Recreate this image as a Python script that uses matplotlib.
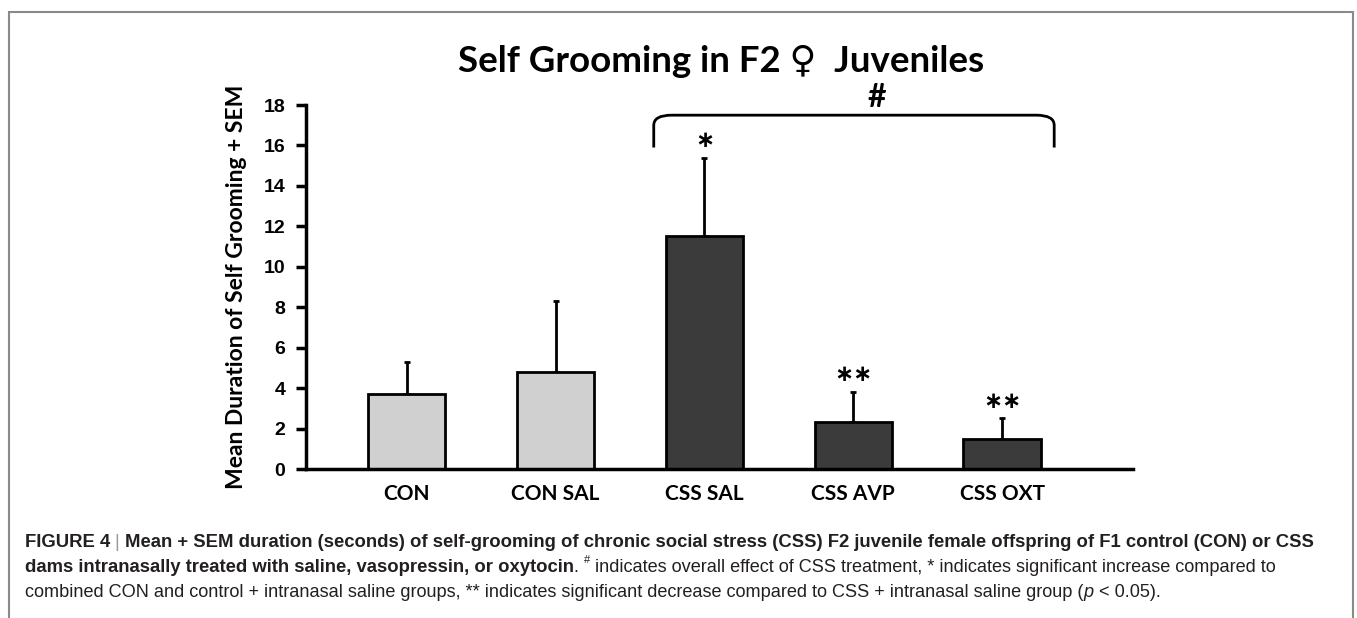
import matplotlib
matplotlib.use("Agg")
import matplotlib.pyplot as plt
from matplotlib.path import Path
from matplotlib.patches import PathPatch, Rectangle

# data
groups = ["CON", "CON SAL", "CSS SAL", "CSS AVP", "CSS OXT"]
means = [3.7, 4.8, 11.5, 2.3, 1.5]
sems = [1.6, 3.5, 3.9, 1.5, 1.0]
bar_colors = ["#d0d0d0", "#d0d0d0", "#3b3b3b", "#3b3b3b", "#3b3b3b"]
stars = ["", "", "*", "**", "**"]
yticks = [0, 2, 4, 6, 8, 10, 12, 14, 16, 18]

chart_font = ["Lato", "DejaVu Sans"]
cap_font = ["Liberation Sans", "DejaVu Sans"]

fig = plt.figure(figsize=(13.57, 6.18), dpi=100)
ax = fig.add_axes([0.2255, 0.2411, 0.6095, 0.5889])

x = list(range(len(groups)))
ax.bar(x, means, width=0.52, color=bar_colors, edgecolor="black", linewidth=2, zorder=2)
ax.errorbar(x, means, yerr=[[0] * len(sems), sems], fmt="none", ecolor="black",
            elinewidth=2, capsize=2, capthick=2, zorder=1)

# significance stars
for xi, m, s, st in zip(x, means, sems, stars):
    if st:
        ax.text(xi, m + s + 0.85, "\u2217" * len(st), ha="center", va="center",
                fontsize=16.5, fontweight="bold", family=["DejaVu Sans"])

ax.set_xlim(-0.676, 4.88)
ax.set_ylim(0, 18)
ax.set_yticks(yticks)
ax.set_xticks(x)
ax.set_xticklabels(groups, family=chart_font, fontweight="bold", fontsize=15)
for lab in ax.get_yticklabels():
    lab.set_family(["Liberation Sans"])
    lab.set_fontweight("bold")
    lab.set_fontsize(14)
ax.tick_params(axis="y", direction="out", length=7, width=2.5, pad=8)
ax.tick_params(axis="x", length=0, pad=11)
for side in ["top", "right"]:
    ax.spines[side].set_visible(False)
for side in ["left", "bottom"]:
    ax.spines[side].set_linewidth(2.5)
ax.set_ylabel("Mean Duration of Self Grooming + SEM", family=chart_font,
              fontweight="bold", fontsize=16.5, labelpad=12)

# bracket over the CSS groups
bl, br, btop, bbot = 1.66, 4.35, 17.5, 15.9
verts = [(bl, bbot), (bl, btop - 0.5), (bl, btop), (bl + 0.12, btop),
         (br - 0.12, btop), (br, btop), (br, btop - 0.5), (br, bbot)]
codes = [Path.MOVETO, Path.LINETO, Path.CURVE3, Path.CURVE3,
         Path.LINETO, Path.CURVE3, Path.CURVE3, Path.LINETO]
ax.add_patch(PathPatch(Path(verts, codes), fill=False, lw=2, color="black", clip_on=False))
ax.text(3.16, 18.35, "#", ha="center", va="center", fontsize=23, fontweight="bold",
        family=chart_font, clip_on=False)

fig.text(0.531, 1 - 72 / 618, "Self Grooming in F2 \u2640  Juveniles", ha="center",
         va="baseline", fontsize=26.4, fontweight="bold", family=chart_font)

# frame around the figure
fig.patches.append(Rectangle((0.0065, -0.05), 0.9905, 1.0306, transform=fig.transFigure,
                             fill=False, edgecolor="#8a8a8a", lw=1.5))

# caption, drawn piece by piece
cap_color = "#231f20"
lines = [
    [("FIGURE 4 ", "bold", cap_color), ("| ", "normal", "#999999"),
     ("Mean + SEM duration (seconds) of self-grooming of chronic social stress (CSS) F2 juvenile female offspring of F1 control (CON) or CSS", "bold", cap_color)],
    [("dams intranasally treated with saline, vasopressin, or oxytocin", "bold", cap_color),
     (". ", "normal", cap_color), ("#", "sup", cap_color),
     (" indicates overall effect of CSS treatment, * indicates significant increase compared to", "normal", cap_color)],
    [("combined CON and control + intranasal saline groups, ** indicates significant decrease compared to CSS + intranasal saline group (", "normal", cap_color),
     ("p", "italic", cap_color), (" < 0.05).", "normal", cap_color)],
]
line_y = [1 - 547 / 618, 1 - 572 / 618, 1 - 597 / 618]
fig.canvas.draw()
renderer = fig.canvas.get_renderer()
for parts, ly in zip(lines, line_y):
    xpos = 25 / 1357
    for txt, style, col in parts:
        kw = dict(fontsize=13.1, color=col, family=cap_font, va="baseline", ha="left")
        yy = ly
        if style == "bold":
            kw["fontweight"] = "bold"
            kw["fontsize"] = 13.3
        elif style == "italic":
            kw["fontstyle"] = "italic"
        elif style == "sup":
            kw["fontsize"] = 8
            yy = ly + 0.014
        t = fig.text(xpos, yy, txt, **kw)
        bb = t.get_window_extent(renderer)
        xpos += bb.width / fig.bbox.width

fig.savefig("out.png", dpi=100)
